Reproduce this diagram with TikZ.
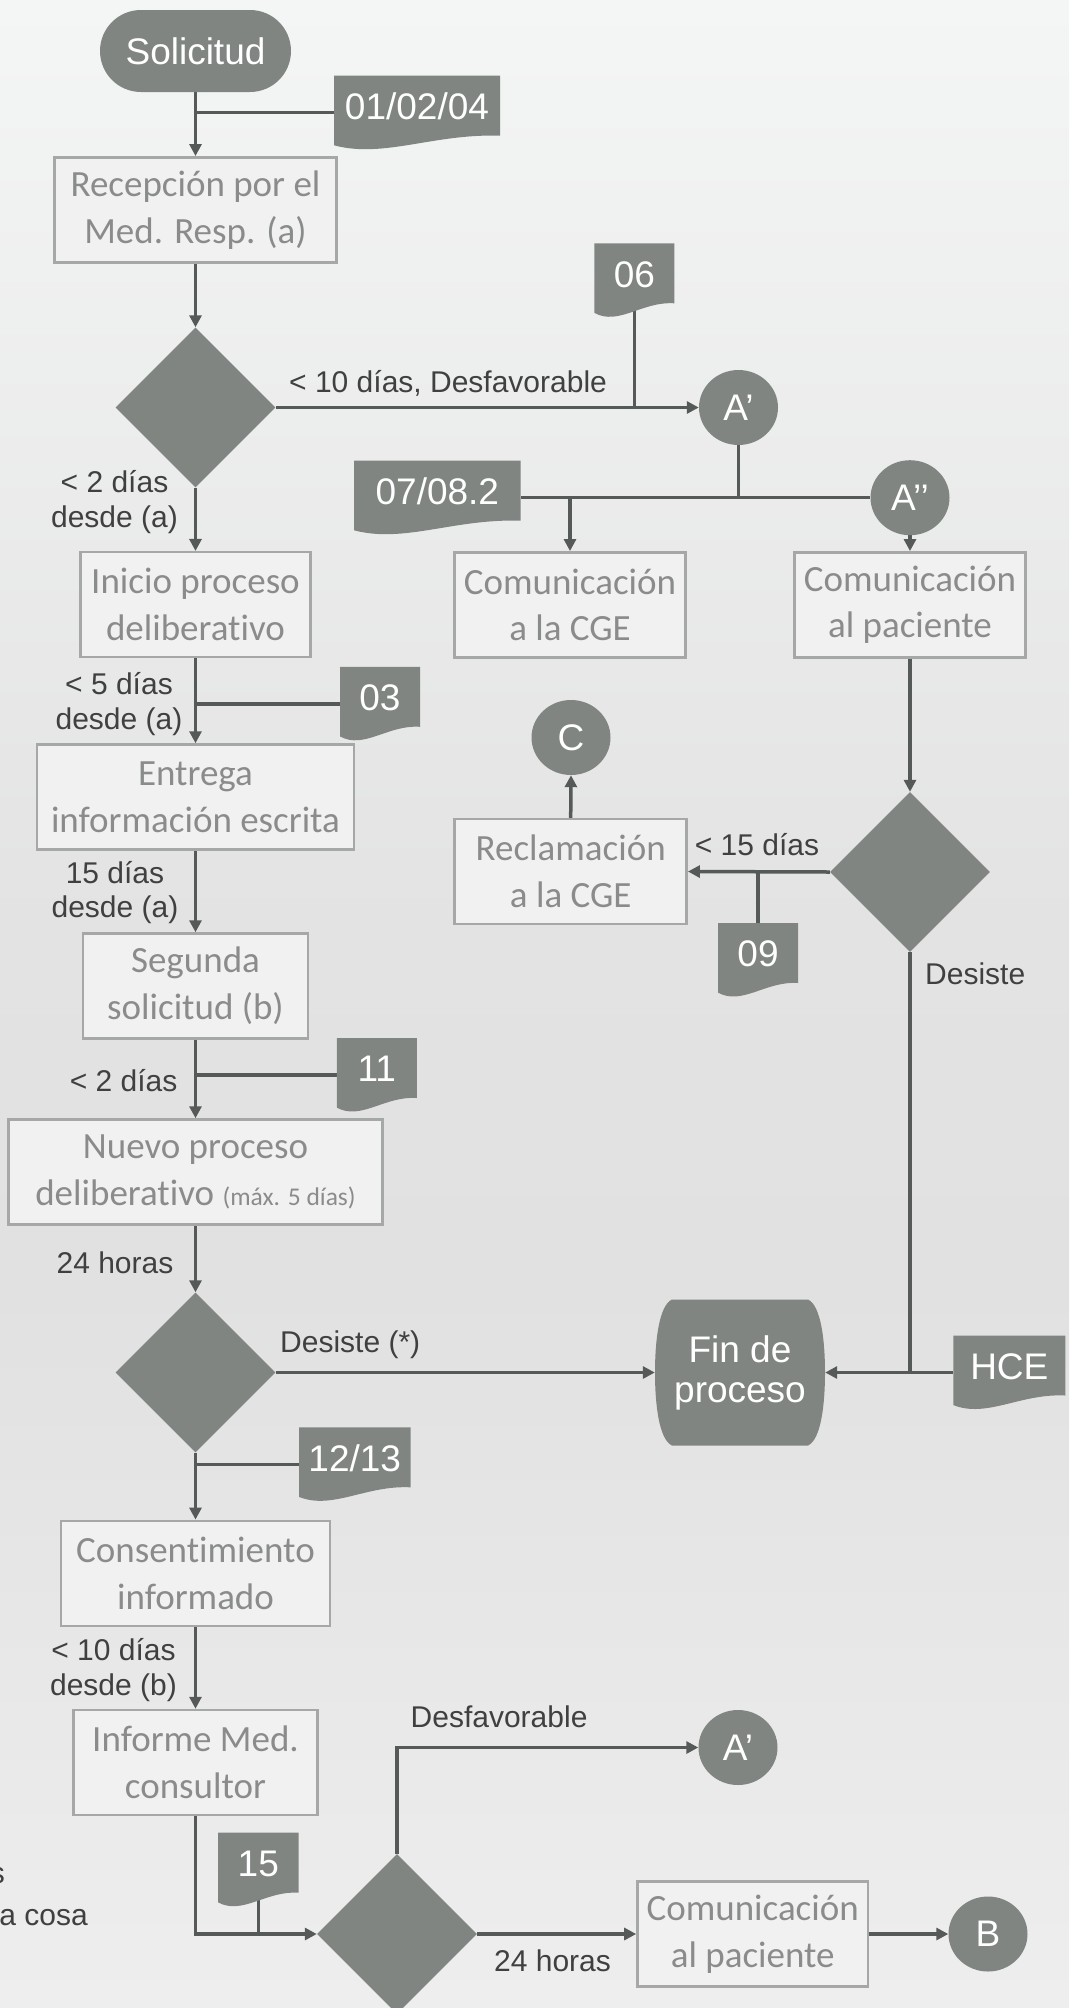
\documentclass[tikz,border=0pt]{standalone}
\usepackage{fontspec}
\setmainfont{Liberation Sans}
\newfontfamily\calib[Ligatures={NoCommon}]{Carlito}
\usetikzlibrary{arrows.meta,shapes.geometric,calc}
\definecolor{shapefill}{HTML}{808582}
\definecolor{linec}{HTML}{555957}
\definecolor{boxfill}{HTML}{F1F1F1}
\definecolor{boxline}{HTML}{A5A8A6}
\definecolor{boxtext}{HTML}{8A8C8B}
\definecolor{labc}{HTML}{404040}
\definecolor{bgtop}{HTML}{F4F5F5}
\definecolor{bgmid}{HTML}{E1E1E1}
\definecolor{bgmidb}{HTML}{E3E3E3}
\definecolor{bgbot}{HTML}{EEEEEE}
\pgfdeclareverticalshading{bgshade}{100bp}{color(0bp)=(bgbot); color(25bp)=(bgbot); color(43bp)=(bgmid); color(52bp)=(bgmidb); color(75bp)=(bgtop); color(100bp)=(bgtop)}
\pgfdeclarelayer{bg}
\pgfdeclarelayer{lines}
\pgfsetlayers{bg,lines,main}
\tikzset{
  shp/.style={fill=shapefill, draw=none, text=white, font=\fontsize{37}{42}\selectfont, inner sep=0pt},
  pill/.style={shp, rounded corners=41pt, minimum width=191pt, minimum height=82pt},
  dmd/.style={shp, diamond, minimum width=160pt, minimum height=160pt},
  conn/.style={shp, ellipse, minimum width=79pt, minimum height=75pt},
  pbox/.style={rectangle, fill=boxfill, draw=boxline, line width=2.5pt, text=boxtext, font=\calib\fontsize{37}{46.7}\selectfont, align=center, inner sep=0pt, minimum height=105pt},
  lab/.style={text=labc, font=\fontsize{30}{35}\selectfont, inner sep=0pt},
  ln/.style={draw=linec, line width=3.5pt},
  arr/.style={ln, -{Triangle[length=12pt,width=12pt]}},
  docanc/.style={inner sep=0pt, minimum height=74pt},
}
\newcommand\docnode[5]{%
  \fill[shapefill] (#2,#3) -- ({#2+#4},#3) -- ({#2+#4},{#3+60}) .. controls ({#2+0.6*#4},{#3+57.7}) and ({#2+0.3*#4},{#3+82.9}) .. (#2,{#3+69.6}) -- cycle;
  \node[docanc, minimum width=#4pt, label={[shp, fill=none, yshift=6pt]center:#5}] (#1) at ({#2+#4/2},{#3+37}) {};
}
\begin{document}
\begin{tikzpicture}[x=1pt,y=-1pt]
\useasboundingbox (0,0) rectangle (1069,2008);
\begin{pgfonlayer}{bg}
\shade[shading=bgshade] (0,0) rectangle (1069,2008);
\end{pgfonlayer}
\clip (0,0) rectangle (1069,2008);

% left column
\node[pill] (sol) at (195.5,51) {Solicitud};
\docnode{d01}{334}{75.7}{166}{01/02/04}
\node[pbox, minimum width=282.4pt] (rec) at (195.5,209.8) {Recepción por el\\Med. Resp. (a)};
\node[dmd] (dia1) at (195.5,407.5) {};
\node[pbox, minimum width=230pt] (ini) at (195.5,604.7) {Inicio proceso\\deliberativo};
\docnode{d03}{340}{666.8}{80}{03}
\node[pbox, minimum width=317pt] (ent) at (195.5,797) {Entrega\\información escrita};
\node[pbox, minimum width=225pt] (seg) at (195.5,986) {Segunda\\solicitud (b)};
\docnode{d11}{336.8}{1038}{80}{11}
\node[pbox, minimum width=373.7pt] (nue) at (195.5,1172) {Nuevo proceso\\deliberativo {\fontsize{25.5}{30}\selectfont(máx. 5 días)}};
\node[dmd] (dia3) at (195.5,1372.5) {};
\docnode{d1213}{299}{1427.3}{111.5}{12/13}
\node[pbox, minimum width=269pt] (con) at (195.5,1573.3) {Consentimiento\\informado};
\node[pbox, minimum width=244pt] (inf) at (195.5,1762.5) {Informe Med.\\consultor};
\docnode{d15}{218}{1832.7}{80.6}{15}
\node[dmd] (dia4) at (397,1934) {};

% right part
\docnode{d06}{594.4}{243.3}{80}{06}
\node[conn] (A1) at (738.5,407.5) {A’};
\docnode{d0708}{354}{460.7}{166.7}{07/08.2}
\node[conn] (A2) at (910,497.7) {A’’};
\node[pbox, minimum width=230.7pt] (cge) at (570,604.8) {Comunicación\\a la CGE};
\node[pbox, minimum width=231pt] (pac) at (910,604.8) {Comunicación\\al paciente};
\node[conn] (C) at (571,737.5) {C};
\node[pbox, minimum width=232pt] (rcl) at (570.7,871.5) {Reclamación\\a la CGE};
\node[dmd] (dia2) at (910,872) {};
\docnode{d09}{718}{923}{80}{09}
\fill[shapefill, shift={(740,1372.5)}] (-68,-73) -- (68,-73) .. controls (81,-67) and (85,-32) .. (85,0) .. controls (85,32) and (81,67) .. (68,73) -- (-68,73) .. controls (-81,67) and (-85,32) .. (-85,0) .. controls (-85,-32) and (-81,-67) .. cycle;
\node[shp, fill=none, minimum width=170pt, minimum height=146pt, align=center, font=\fontsize{37}{40}\selectfont] (fin) at (740,1372.5) {Fin de\\proceso};
\docnode{dhce}{953.3}{1335.5}{112}{HCE}
\node[conn] (A3) at (738,1747.5) {A’};
\node[pbox, minimum width=230.5pt] (pac2) at (752.7,1934) {Comunicación\\al paciente};
\node[conn] (B) at (988,1934) {B};

% labels
\node[lab, anchor=base west] (t1) at (289,392) {< 10 días, Desfavorable};
\node[lab, anchor=base] (t2a) at (114.5,492) {< 2 días};
\node[lab, anchor=base] (t2b) at (114.5,527) {desde (a)};
\node[lab, anchor=base] (t3a) at (119,694) {< 5 días};
\node[lab, anchor=base] (t3b) at (119,729) {desde (a)};
\node[lab, anchor=base] (t4a) at (115,883) {15 días};
\node[lab, anchor=base] (t4b) at (115,917) {desde (a)};
\node[lab, anchor=base] (t5) at (123.6,1091) {< 2 días};
\node[lab, anchor=base] (t6) at (115,1273) {24 horas};
\node[lab, anchor=base west] (t7) at (280,1352) {Desiste (*)};
\node[lab, anchor=base] (t8a) at (113.5,1660) {< 10 días};
\node[lab, anchor=base] (t8b) at (113.5,1695) {desde (b)};
\node[lab, anchor=base west] (t9) at (410.5,1727) {Desfavorable};
\node[lab, anchor=base west] (t10) at (494,1971) {24 horas};
\node[lab, anchor=base west] (t11) at (694.7,855) {< 15 días};
\node[lab, anchor=base west] (t12) at (925,984) {Desiste};
\node[lab, anchor=base east] (t13a) at (5,1883) {s};
\node[lab, anchor=base east] (t13b) at (88,1925) {a cosa};

% connectors
\begin{pgfonlayer}{lines}
\draw[arr] (sol.south) -- (rec.north);
\draw[ln] (d01.west) -- (d01.west -| sol.south);
\draw[arr] (rec.south) -- (dia1.north);
\draw[arr] (dia1.east) -- (A1.west);
\draw[ln] (d06.center) -- (d06.center |- A1.west);
\draw[arr] (dia1.south) -- (ini.north);
\draw[ln] (A1.south) -- (A1.south |- d0708.east);
\draw[ln] (d0708.east) -- (A2.west);
\draw[arr] (cge.north |- d0708.east) -- (cge.north);
\draw[arr] (A2.south) -- (pac.north);
\draw[arr] (ini.south) -- (ent.north);
\draw[ln] (d03.west) -- (d03.west -| ini.south);
\draw[arr] (pac.south) -- (dia2.north);
\draw[arr] (dia2.west) -- (rcl.east);
\draw[ln] (d09.north) -- (d09.north |- dia2.west);
\draw[arr] (rcl.north) -- (C.south);
\draw[arr] (ent.south) -- (seg.north);
\draw[arr] (seg.south) -- (nue.north);
\draw[ln] (d11.west) -- (d11.west -| seg.south);
\draw[arr] (nue.south) -- (dia3.north);
\draw[arr] (dia3.east) -- (fin.west);
\draw[ln] (dia2.south) -- (dia2.south |- fin.east);
\draw[arr] (dhce.west) -- (fin.east);
\draw[arr] (dia3.south) -- (con.north);
\draw[ln] (d1213.west) -- (d1213.west -| dia3.south);
\draw[arr] (con.south) -- (inf.north);
\draw[arr] (inf.south) |- (dia4.west);
\draw[ln] (d15.center) -- (d15.center |- dia4.west);
\draw[arr] (dia4.north) |- (A3.west);
\draw[arr] (dia4.east) -- (pac2.west);
\draw[arr] (pac2.east) -- (B.west);
\end{pgfonlayer}
\end{tikzpicture}
\end{document}
